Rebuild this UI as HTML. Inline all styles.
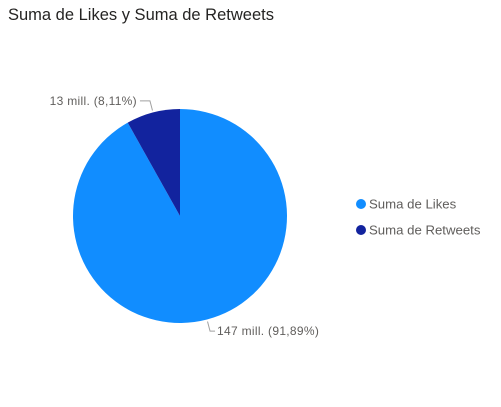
<!DOCTYPE html>
<html><head><meta charset="utf-8"><style>
body{margin:0;background:#fff;width:501px;height:402px;overflow:hidden;font-family:"Liberation Sans",sans-serif}
</style></head><body>
<svg width="501" height="402">
<text x="8" y="20" font-size="16.5" fill="#252423">Suma de Likes y Suma de Retweets</text>
<g id="slices"></g>
<g id="labels" font-size="12" letter-spacing="0.3" fill="#605e5c"></g>
<g font-size="13.2" fill="#605e5c">
<circle cx="361" cy="204" r="5" fill="#118DFF"/>
<text x="369" y="208.5">Suma de Likes</text>
<circle cx="361" cy="230" r="5" fill="#12239E"/>
<text x="369" y="234.5">Suma de Retweets</text>
</g>
</svg>
<script>
const categories=["Suma de Likes","Suma de Retweets"];
const values=[147,13];
const valueLabels=["147 mill. (91,89%)","13 mill. (8,11%)"];
const colors=["#118DFF","#12239E"];
const cx=180,cy=216,r=107;
const ns="http://www.w3.org/2000/svg";
const total=values.reduce((a,b)=>a+b,0);
const g=document.getElementById("slices"),lg=document.getElementById("labels");
function pt(a,rr){return [cx+rr*Math.sin(a),cy-rr*Math.cos(a)];}
let a0=0;
values.forEach((v,i)=>{
 const a1=a0+v/total*2*Math.PI;
 const p0=pt(a0,r),p1=pt(a1,r);
 const p=document.createElementNS(ns,"path");
 p.setAttribute("d",`M${cx},${cy}L${p0[0]},${p0[1]}A${r},${r} 0 ${a1-a0>Math.PI?1:0} 1 ${p1[0]},${p1[1]}Z`);
 p.setAttribute("fill",colors[i]);
 
 
 g.appendChild(p);
 const mid=(a0+a1)/2;
 const e=pt(mid,r+2),k=pt(mid,r+12);
 const right=Math.sin(mid)>=0;
 const hx=k[0]+(right?5:-10);
 const ln=document.createElementNS(ns,"polyline");
 ln.setAttribute("points",`${e[0]},${e[1]} ${k[0]},${k[1]} ${hx},${k[1]}`);
 ln.setAttribute("fill","none");ln.setAttribute("stroke","#a0a0a0");
 
 
 lg.appendChild(ln);
 const t=document.createElementNS(ns,"text");
 t.setAttribute("x",right?hx+2:hx-3);t.setAttribute("y",k[1]+4);
 t.setAttribute("text-anchor",right?"start":"end");
 t.textContent=valueLabels[i];
 
 
 lg.appendChild(t);
 a0=a1;
});
</script>
</body></html>
